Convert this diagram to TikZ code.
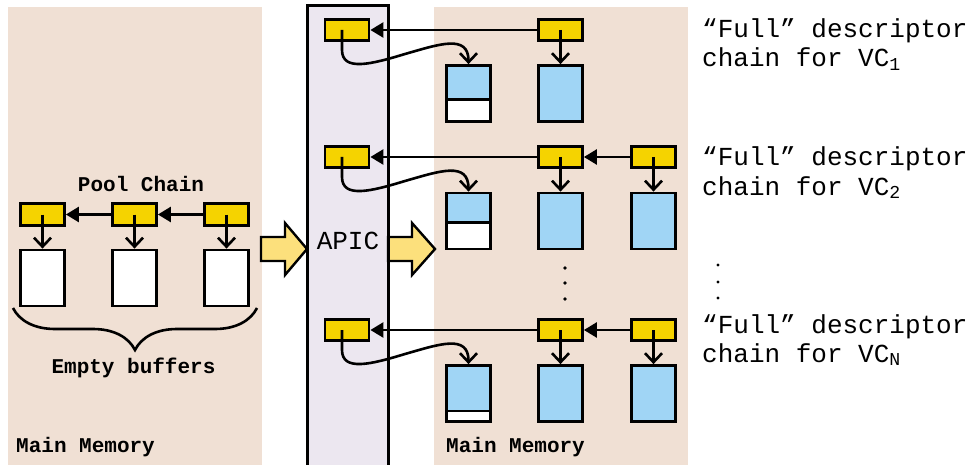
\documentclass[tikz,border=0pt]{standalone}
\usepackage{fontspec}
\setmonofont{Liberation Mono}
\usetikzlibrary{arrows.meta,decorations.pathreplacing}
\definecolor{membg}{HTML}{F0E0D4}
\definecolor{apicbg}{HTML}{ECE7F0}
\definecolor{descgold}{HTML}{F5D300}
\definecolor{bufblue}{HTML}{A0D5F5}
\definecolor{moveyel}{HTML}{FCE07C}
\tikzset{
  desc/.style={draw, fill=descgold, line width=2.8pt, minimum width=44pt, minimum height=21.5pt, inner sep=0pt},
  buf/.style={draw, fill=white, line width=2.8pt, minimum width=44pt, minimum height=56pt, inner sep=0pt},
  fullbuf/.style={buf, fill=bufblue},
  ptr/.style={line width=2.6pt, -{Straight Barb[length=9pt,width=17pt]}},
  link/.style={line width=2.6pt, -{Triangle[length=13pt,width=15pt]}},
  bold label/.style={font=\fontsize{21}{24}\selectfont\ttfamily\bfseries, inner sep=0pt},
  vc label/.style={font=\fontsize{26}{29}\selectfont\ttfamily, inner sep=0pt, anchor=base west},
  move/.style={line width=2.4pt, fill=moveyel}
}
\begin{document}
\begin{tikzpicture}[x=1pt,y=-1pt]
\useasboundingbox (0,0) rectangle (976,465);
\fill[membg] (8,7) rectangle (262,465);
\fill[membg] (434,7) rectangle (688,465);
\fill[apicbg] (307,6) rectangle (388,465);
\draw[move] (261,237) -- (285,237) -- (285,223) -- (307,249) -- (285,275) -- (285,261) -- (261,261) -- cycle;
\draw[move] (388,237) -- (412,237) -- (412,223) -- (435,249) -- (412,275) -- (412,261) -- (388,261) -- cycle;
\draw[line width=3pt] (307,466) -- (307,6) -- (388,6) -- (388,466);
\node[font=\fontsize{26}{29}\selectfont\ttfamily, anchor=base, inner sep=0pt] (apic) at (348,249) {APIC};

\foreach \n/\x in {1/42.5,2/134.5,3/226.5} {
  \node[desc] (pd\n) at (\x,214.5) {};
  \node[buf] (pb\n) at (\x,278) {};
  \draw[ptr] (pd\n.center) -- (pb\n.north);
}
\draw[link] (pd3.west) -- (pd2.east);
\draw[link] (pd2.west) -- (pd1.east);
\node[bold label, anchor=base] (poolchain) at (141,191) {Pool Chain};
\draw[line width=2.6pt, decorate, decoration={brace, mirror, amplitude=42pt}] (13,308) -- (257,308);
\node[bold label, anchor=base] (empty) at (133.5,373) {Empty buffers};
\node[bold label, anchor=base west] (leftmem) at (16,452) {Main Memory};
\node[bold label, anchor=base west] (rightmem) at (446,452) {Main Memory};

\node[desc] (ad1) at (347,30) {};
\node[desc] (ad2) at (347,157) {};
\node[desc] (ad3) at (347,330) {};
\node[desc] (ra1) at (560.5,30) {};
\node[desc] (ra2) at (560.5,157) {};
\node[desc] (rb2) at (653.5,157) {};
\node[desc] (ra3) at (560.5,330) {};
\node[desc] (rb3) at (653.5,330) {};

\node[fullbuf] (bz1) at (468.5,93.5) {};
\node[fullbuf] (ba1) at (560.5,93.5) {};
\node[fullbuf] (bz2) at (468.5,221) {};
\node[fullbuf] (ba2) at (560.5,221) {};
\node[fullbuf] (bb2) at (653.5,221) {};
\node[fullbuf] (bz3) at (468.5,393.5) {};
\node[fullbuf] (ba3) at (560.5,393.5) {};
\node[fullbuf] (bb3) at (653.5,393.5) {};
\draw[line width=2.8pt, fill=white] ([shift={(1.4pt,1.4pt)}]bz1.south west) rectangle ([shift={(-1.4pt,23pt)}]bz1.south east);
\draw[line width=2.8pt, fill=white] ([shift={(1.4pt,1.4pt)}]bz2.south west) rectangle ([shift={(-1.4pt,28pt)}]bz2.south east);
\draw[line width=2.8pt, fill=white] ([shift={(1.4pt,1.4pt)}]bz3.south west) rectangle ([shift={(-1.4pt,12pt)}]bz3.south east);

\draw[ptr] (ra1.center) -- (ba1.north);
\draw[ptr] (ra2.center) -- (ba2.north);
\draw[ptr] (rb2.center) -- (bb2.north);
\draw[ptr] (ra3.center) -- (ba3.north);
\draw[ptr] (rb3.center) -- (bb3.north);
\draw[link] (ra1.west) -- (ad1.east);
\draw[link] (rb2.west) -- (ra2.east);
\draw[link] (ra2.west) -- (ad2.east);
\draw[link] (rb3.west) -- (ra3.east);
\draw[link] (ra3.west) -- (ad3.east);
\foreach \n/\y in {1/0,2/127,3/300}
  \draw[ptr] ([xshift=-5pt]ad\n.center) -- (342,50+\y) .. controls (342,72+\y) and (372,64+\y) .. (405,54+\y) .. controls (440,44+\y) and (468.5,34+\y) .. (bz\n.north);

\foreach \y in {268,283,299} \fill (565,\y) circle (1.8pt);
\foreach \y in {265,282,298} \fill (718,\y) circle (1.6pt);

\node[vc label] (vc1a) at (702,38) {“Full” descriptor};
\node[vc label] (vc1b) at (702,67) {chain for VC\textsubscript{1}};
\node[vc label] (vc2a) at (702,166) {“Full” descriptor};
\node[vc label] (vc2b) at (702,195) {chain for VC\textsubscript{2}};
\node[vc label] (vcna) at (702,333) {“Full” descriptor};
\node[vc label] (vcnb) at (702,362) {chain for VC\textsubscript{N}};
\end{tikzpicture}
\end{document}
